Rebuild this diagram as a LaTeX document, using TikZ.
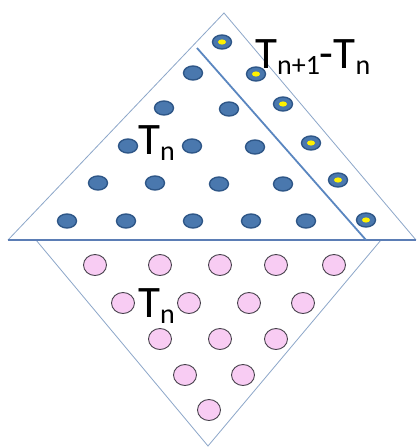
\documentclass[tikz,border=0pt]{standalone}
\usepackage{fontspec}
\setmainfont{Carlito}
\usetikzlibrary{shapes.geometric}
\definecolor{edgeblue}{HTML}{8DA7C9}
\definecolor{baseblue}{HTML}{5B7DB5}
\definecolor{sepblue}{HTML}{5A86C0}
\definecolor{dotfill}{HTML}{4A78AE}
\definecolor{dotline}{HTML}{2E5687}
\definecolor{pinkfill}{HTML}{F8CCF3}
\definecolor{pinkline}{HTML}{45404A}
\newcommand{\bigT}{\fontsize{45}{45}\selectfont}
\newcommand{\subn}[1]{\raisebox{-6pt}{\fontsize{28}{28}\selectfont #1}}
\tikzset{
  bdot/.style={ellipse,draw=dotline,fill=dotfill,line width=1.4pt,minimum width=19pt,minimum height=14pt,inner sep=0pt},
  ydot/.style={bdot,path picture={\fill[yellow] (path picture bounding box.center) ellipse (4pt and 2.6pt);}},
  pdot/.style={ellipse,draw=pinkline,fill=pinkfill,line width=0.9pt,minimum width=23pt,minimum height=21pt,inner sep=0pt},
  lbl/.style={inner sep=0pt,anchor=base west,font=\bigT},
  tri/.style={draw=edgeblue,line width=0.8pt},
}
\begin{document}
\begin{tikzpicture}[x=1pt,y=-1pt]
\useasboundingbox[fill=white] (0,0) rectangle (417,448);
% triangles
\coordinate (A) at (224,13);
\coordinate (BL) at (8,240);
\coordinate (BR) at (416,240);
\coordinate (CL) at (36,240);
\coordinate (CR) at (381,240);
\coordinate (D) at (208,446);
\coordinate (S1) at (197,48);
\coordinate (S2) at (366,240);
\draw[tri] (BL) -- (A) -- (BR);
\draw[tri] (CL) -- (D) -- (CR);
\draw[draw=baseblue,line width=1.1pt] (BL) -- (BR);
\draw[draw=sepblue,line width=1.8pt] (S1) -- (S2);
% blue dots
\node[ydot] (y1) at (222,42) {};
\node[bdot] (b21) at (193,73) {};
\node[ydot] (y2) at (256,74) {};
\node[bdot] (b31) at (164,108) {};
\node[bdot] (b32) at (229,109) {};
\node[ydot] (y3) at (283,104) {};
\node[bdot] (b41) at (128,146) {};
\node[bdot] (b42) at (192,146) {};
\node[bdot] (b43) at (255,147) {};
\node[ydot] (y4) at (311,143) {};
\node[bdot] (b51) at (98,183) {};
\node[bdot] (b52) at (155,183) {};
\node[bdot] (b53) at (219,184) {};
\node[bdot] (b54) at (283,184) {};
\node[ydot] (y5) at (338,180) {};
\node[bdot] (b61) at (67,221) {};
\node[bdot] (b62) at (126,221) {};
\node[bdot] (b63) at (193,221) {};
\node[bdot] (b64) at (251,221) {};
\node[bdot] (b65) at (306,221) {};
\node[ydot] (y6) at (366,220) {};
% pink dots
\node[pdot] (p11) at (95,265) {};
\node[pdot] (p12) at (160,265) {};
\node[pdot] (p13) at (220,265) {};
\node[pdot] (p14) at (276,265) {};
\node[pdot] (p15) at (334,265) {};
\node[pdot] (p21) at (123,303) {};
\node[pdot] (p22) at (189,303) {};
\node[pdot] (p23) at (249,303) {};
\node[pdot] (p24) at (303,303) {};
\node[pdot] (p31) at (160,339) {};
\node[pdot] (p32) at (220,339) {};
\node[pdot] (p33) at (276,339) {};
\node[pdot] (p41) at (185,375) {};
\node[pdot] (p42) at (243,375) {};
\node[pdot] (p51) at (209,410) {};
% labels
\node[lbl] (tn1) at (138,154) {T\subn{n}};
\node[lbl] (tn2) at (138,317) {T\subn{n}};
\node[lbl] (tdiff) at (255,68) {T\subn{n+1}-T\subn{n}};
\end{tikzpicture}
\end{document}
